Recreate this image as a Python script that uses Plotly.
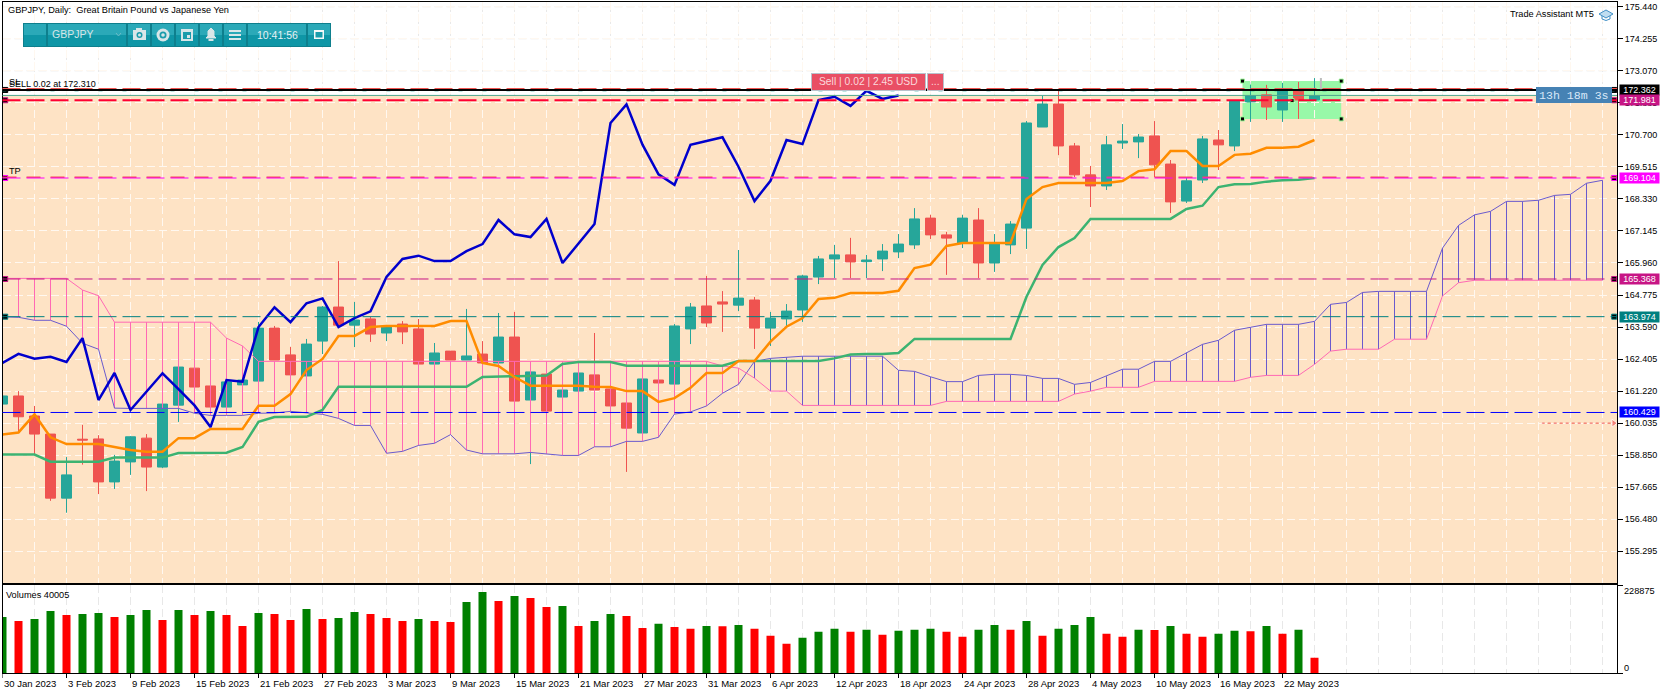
import plotly.graph_objects as go

W, H = 1670, 694

# daily candles, GBPJPY
opens = [160.74, 161.04, 160.30, 159.63, 157.26, 159.44, 159.45, 157.86, 158.60, 159.48,
         158.41, 160.70, 162.07, 161.41, 160.63, 161.45, 161.59, 163.55, 162.56, 161.78,
         163.07, 164.33, 163.66, 163.89, 163.37, 163.70, 163.52, 162.22, 162.70, 162.37,
         162.59, 162.26, 163.22, 160.89, 161.85, 161.00, 161.22, 161.82, 161.30, 160.78,
         159.67, 161.63, 161.48, 163.52, 164.37, 164.52, 164.40, 164.59, 163.55, 163.89,
         164.22, 165.44, 166.11, 166.26, 166.01, 166.11, 166.37, 166.63, 167.62, 167.00,
         166.70, 167.55, 165.96, 166.63, 167.25, 170.99, 171.84, 170.29, 169.22, 168.81,
         170.40, 170.44, 170.66, 169.62, 168.25, 169.03, 170.51, 170.29, 171.92, 172.18,
         171.62, 172.36, 171.99]
highs = [161.04, 161.22, 160.67, 159.63, 158.78, 159.97, 159.59, 158.86, 159.56, 159.63,
         160.74, 162.11, 162.07, 161.41, 161.56, 161.63, 163.78, 163.63, 162.85, 163.15,
         164.37, 166.03, 164.52, 163.96, 163.66, 163.81, 163.89, 163.00, 162.70, 164.26,
         163.07, 164.11, 164.15, 161.93, 161.85, 161.26, 161.89, 163.37, 161.30, 160.78,
         161.67, 161.63, 163.70, 164.48, 165.48, 164.92, 166.44, 164.70, 164.15, 164.44,
         165.52, 166.22, 166.63, 166.89, 166.26, 166.66, 167.03, 167.99, 167.74, 167.11,
         167.74, 167.99, 167.03, 167.51, 171.21, 172.14, 172.36, 170.40, 169.55, 170.66,
         171.10, 170.73, 171.21, 169.77, 169.14, 170.66, 170.88, 171.99, 172.55, 172.55,
         172.62, 172.66, 172.80]
lows = [160.74, 159.72, 158.89, 157.16, 156.72, 158.50, 157.41, 157.60, 158.12, 157.52,
        158.37, 160.08, 161.37, 160.63, 160.63, 161.45, 161.59, 162.37, 161.82, 161.78,
        162.59, 163.59, 162.85, 163.04, 163.07, 162.96, 162.22, 162.22, 162.37, 162.37,
        162.26, 162.26, 160.85, 158.52, 160.48, 161.00, 161.22, 161.26, 160.67, 158.23,
        159.67, 161.52, 161.48, 162.96, 163.59, 163.41, 164.18, 162.78, 162.89, 163.59,
        163.78, 165.18, 165.40, 165.40, 165.40, 165.66, 166.14, 166.48, 166.85, 165.52,
        166.51, 165.40, 165.63, 166.29, 166.48, 170.99, 169.95, 169.14, 168.03, 168.66,
        170.18, 169.84, 169.14, 167.81, 168.18, 168.92, 169.40, 170.10, 171.18, 171.25,
        171.18, 171.29, 171.99]
closes = [161.04, 160.27, 159.63, 157.26, 158.12, 159.41, 157.86, 158.63, 159.53, 158.41,
          160.74, 162.11, 161.37, 160.63, 161.56, 161.63, 163.55, 162.37, 161.82, 162.96,
          164.33, 163.66, 163.85, 163.33, 163.59, 163.41, 162.22, 162.63, 162.37, 162.52,
          162.26, 163.22, 160.85, 161.93, 160.48, 161.26, 161.89, 161.26, 160.67, 159.85,
          161.67, 161.52, 163.63, 164.33, 163.74, 164.44, 164.66, 163.55, 163.92, 164.18,
          165.48, 166.11, 166.26, 166.00, 166.07, 166.40, 166.66, 167.59, 167.00, 166.88,
          167.62, 165.96, 166.70, 167.40, 171.14, 171.84, 170.29, 169.22, 168.81, 170.33,
          170.47, 170.62, 169.59, 168.22, 169.00, 170.55, 170.33, 171.95, 172.14, 171.73,
          172.32, 171.99, 172.14]
volumes = [147000, 136600, 141800, 162700, 152250, 154900, 157500, 147000, 152250, 165300,
           139200, 165300, 152250, 162700, 152250, 123500, 157500, 154900, 139200, 167900,
           141800, 144400, 160100, 154900, 144400, 136600, 141800, 136600, 134000, 186200,
           212300, 188800, 201800, 196600, 173100, 175700, 123500, 136600, 154900, 149600,
           118300, 128800, 120900, 115700, 123500, 122500, 126150, 115700, 97400, 76600,
           92200, 107900, 115700, 107900, 113100, 100000, 110500, 113100, 115700, 107900,
           94800, 113100, 126150, 113100, 136600, 97400, 115700, 126150, 147000, 102700,
           94800, 113100, 112500, 123500, 102700, 94800, 102700, 110500, 109500, 123500,
           102700, 113100, 40005]

# ichimoku
tenkan = [159.61, 159.69, 160.36, 159.51, 159.26, 159.26, 159.26, 159.15, 159.04, 158.98,
          158.98, 159.48, 159.48, 159.82, 159.82, 159.82, 160.68, 160.68, 161.11, 162.00,
          162.41, 163.26, 163.26, 163.59, 163.63, 163.63, 163.63, 163.63, 163.81, 163.81,
          162.26, 162.15, 161.74, 161.42, 161.42, 161.42, 161.42, 161.38, 161.37, 161.22,
          161.22, 160.82, 160.96, 161.34, 161.89, 161.89, 162.33, 162.33, 163.05, 163.60,
          163.92, 164.63, 164.67, 164.85, 164.85, 164.85, 164.93, 165.77, 165.90, 166.59,
          166.70, 166.70, 166.70, 166.70, 168.33, 168.77, 168.92, 168.92, 168.92, 168.92,
          168.99, 169.36, 169.43, 170.10, 170.10, 169.55, 169.55, 169.96, 170.00, 170.22,
          170.22, 170.26, 170.51]
kijun = [158.87, 158.87, 158.87, 158.61, 158.61, 158.61, 158.61, 158.76, 158.76, 158.76,
         158.76, 158.93, 158.94, 158.94, 158.94, 159.15, 160.08, 160.26, 160.27, 160.27,
         160.52, 161.38, 161.38, 161.38, 161.38, 161.38, 161.38, 161.38, 161.38, 161.38,
         161.74, 161.75, 161.78, 161.79, 161.80, 162.22, 162.30, 162.30, 162.30, 162.16,
         162.16, 162.16, 162.16, 162.16, 162.16, 162.16, 162.33, 162.33, 162.33, 162.33,
         162.33, 162.33, 162.43, 162.57, 162.59, 162.59, 162.63, 163.15, 163.15, 163.15,
         163.15, 163.15, 163.15, 163.15, 164.71, 165.89, 166.55, 166.88, 167.59, 167.59,
         167.59, 167.59, 167.59, 167.59, 167.96, 168.08, 168.77, 168.87, 168.88, 168.97,
         169.02, 169.04, 169.10]
chikou = [162.26, 162.60, 162.42, 162.49, 162.30, 163.18, 160.89, 161.89, 160.52, 161.20,
          161.88, 161.29, 160.69, 159.89, 161.63, 161.57, 163.59, 164.32, 163.77, 164.47,
          164.65, 163.59, 163.92, 164.17, 165.44, 166.11, 166.23, 166.03, 166.03, 166.40,
          166.66, 167.55, 167.02, 166.92, 167.59, 165.96, 166.70, 167.40, 171.14, 171.83,
          170.34, 169.24, 168.85, 170.33, 170.47, 170.61, 169.52, 168.25, 169.00, 170.51,
          170.36, 171.99, 172.11, 171.77, 172.33, 172.03, 172.16]
senkou_a = [163.97, 163.95, 163.84, 163.84, 163.62, 162.99, 162.77, 160.59, 160.58, 160.58,
            160.58, 160.58, 160.40, 160.32, 160.32, 160.32, 160.40, 160.41, 160.47, 160.41,
            160.36, 160.21, 159.95, 159.95, 158.92, 158.99, 159.21, 159.29, 159.61, 159.04,
            158.90, 158.90, 158.90, 158.95, 158.90, 158.84, 158.84, 159.16, 159.16, 159.36,
            159.36, 159.51, 160.37, 160.45, 160.67, 161.14, 161.47, 162.32, 162.43, 162.47,
            162.51, 162.51, 162.51, 162.51, 162.51, 162.51, 161.99, 161.95, 161.75, 161.57,
            161.57, 161.80, 161.84, 161.84, 161.80, 161.69, 161.69, 161.47, 161.54, 161.77,
            162.03, 162.03, 162.32, 162.32, 162.65, 162.95, 163.10, 163.47, 163.58, 163.69,
            163.69, 163.69, 163.80, 164.43, 164.50, 164.87, 164.91, 164.91, 164.91, 164.91,
            166.51, 167.35, 167.74, 167.87, 168.24, 168.24, 168.28, 168.46, 168.50, 168.91, 169.02]
senkou_b = [165.39, 165.39, 165.39, 165.39, 165.39, 164.96, 164.75, 163.77, 163.77, 163.77,
            163.77, 163.77, 163.77, 163.77, 163.18, 162.89, 162.32, 162.32, 162.32, 162.32,
            162.32, 162.32, 162.32, 162.32, 162.32, 162.32, 162.32, 162.32, 162.32, 162.32,
            162.32, 162.32, 162.32, 162.32, 162.32, 162.32, 162.32, 162.32, 162.32, 162.32,
            162.32, 162.32, 162.32, 162.32, 162.32, 162.15, 162.07, 161.70, 161.22, 161.22,
            160.69, 160.69, 160.69, 160.69, 160.69, 160.69, 160.69, 160.69, 160.69, 160.84,
            160.84, 160.84, 160.84, 160.84, 160.84, 160.84, 160.84, 161.11, 161.22, 161.36,
            161.36, 161.36, 161.58, 161.58, 161.58, 161.58, 161.58, 161.58, 161.73, 161.80,
            161.80, 161.80, 162.21, 162.70, 162.77, 162.77, 162.77, 163.14, 163.14, 163.14,
            164.74, 165.23, 165.32, 165.32, 165.32, 165.32, 165.32, 165.32, 165.32, 165.32, 165.32]

# axes
price_ticks = [175.440, 174.255, 173.070, 171.885, 170.700, 169.515, 168.330, 167.145, 165.960,
               164.775, 163.590, 162.405, 161.220, 160.035, 158.850, 157.665, 156.480, 155.295]
date_labels = ["30 Jan 2023", "3 Feb 2023", "9 Feb 2023", "15 Feb 2023", "21 Feb 2023", "27 Feb 2023",
               "3 Mar 2023", "9 Mar 2023", "15 Mar 2023", "21 Mar 2023", "27 Mar 2023", "31 Mar 2023",
               "6 Apr 2023", "12 Apr 2023", "18 Apr 2023", "24 Apr 2023", "28 Apr 2023", "4 May 2023",
               "10 May 2023", "16 May 2023", "22 May 2023"]
vol_max = 228875

# price levels on the right, with their tag colours
level_prices = [172.362, 171.981, 169.104, 165.368, 163.974, 160.429]
level_colors = ["#000000", "#C71585", "#FF00FF", "#C71585", "#008080", "#0000FF"]

# chart objects
peach_top = 172.14
box_x = [77.5, 83.67]
box_y = [171.29, 172.69]
alert_price = 160.035
alert_x = [96.2, 100.7]

FONT = "Liberation Sans"
ZONE = "#FEE3C5"
GRID_LIGHT = "#FFF8F0"
GRID_GREY = "#E8E8E8"
DASH = "8px,4px"
LEVEL_DASH = "18px,6px"

x_range = [0, 100.906]
bars = list(range(len(closes)))
cloud_x = list(range(len(senkou_a)))
grid_x = list(range(0, 101, 2))


def px(x):
    return x / W


def py(y):
    return 1 - y / H


def hatch(pick):
    # vertical strokes of the cloud, split by which span is on top
    xs, ys = [], []
    for i in cloud_x:
        if pick(senkou_a[i], senkou_b[i]):
            xs += [i, i, None]
            ys += [senkou_a[i], senkou_b[i], None]
    return xs, ys


fig = go.Figure()

pink_x, pink_y = hatch(lambda a, b: b >= a)
blue_x, blue_y = hatch(lambda a, b: a > b)
fig.add_trace(go.Scatter(x=pink_x, y=pink_y, mode="lines", line=dict(color="#FF69B4", width=1)))
fig.add_trace(go.Scatter(x=blue_x, y=blue_y, mode="lines", line=dict(color="#6A5ACD", width=1)))
fig.add_trace(go.Scatter(x=cloud_x, y=senkou_a, mode="lines", line=dict(color="#6A5ACD", width=1)))
fig.add_trace(go.Scatter(x=cloud_x, y=senkou_b, mode="lines", line=dict(color="#FF69B4", width=1)))

fig.add_trace(go.Candlestick(
    x=bars, open=opens, high=highs, low=lows, close=closes, whiskerwidth=0,
    increasing=dict(line=dict(color="#26A69A", width=1), fillcolor="#26A69A"),
    decreasing=dict(line=dict(color="#EF5350", width=1), fillcolor="#EF5350"),
))

fig.add_trace(go.Scatter(x=bars, y=kijun, mode="lines", line=dict(color="#3CB371", width=2.5)))
fig.add_trace(go.Scatter(x=bars, y=tenkan, mode="lines", line=dict(color="#FF8C00", width=2.5)))
fig.add_trace(go.Scatter(x=bars[:len(chikou)], y=chikou, mode="lines", line=dict(color="#0000CD", width=2.5)))

# dotted alert line with arrow
fig.add_trace(go.Scatter(x=alert_x, y=[alert_price, alert_price], mode="lines+markers",
                         line=dict(color="#EF5350", width=1, dash="3px,3px"),
                         marker=dict(symbol=["line-ew", "triangle-right"], size=[1, 7], color="#EF5350")))

# small drag handles on the lines and the green box
for side in [0.17, 100.73]:
    fig.add_trace(go.Scatter(x=[side] * 5, y=level_prices[:5], mode="markers",
                             marker=dict(symbol="square", size=5, color="#000000",
                                         line=dict(color=level_colors[:5], width=1))))
fig.add_trace(go.Scatter(x=[box_x[0], box_x[1], box_x[0], box_x[1], 80.6],
                         y=[box_y[1], box_y[1], box_y[0], box_y[0], 171.97], mode="markers",
                         marker=dict(symbol="square", size=4, color="#000000",
                                     line=dict(color="#98FB98", width=1))))

# volumes go green when they rise on the day before
vol_colors = ["#008000"] + ["#008000" if v > p else "#FF0000" for p, v in zip(volumes, volumes[1:])]
fig.add_trace(go.Bar(x=bars, y=volumes, width=0.5, marker=dict(color=vol_colors, line_width=0),
                     xaxis="x2", yaxis="y2"))

shapes = [
    dict(type="rect", xref="x domain", yref="y", x0=0, x1=1, y0=150, y1=peach_top,
         fillcolor=ZONE, line_width=0, layer="below"),
    dict(type="rect", xref="x", yref="y", x0=box_x[0], x1=box_x[1], y0=box_y[0], y1=box_y[1],
         fillcolor="#98F8A8", line_width=0, layer="below"),
]

# grid in the white strip above the zone
for g in grid_x:
    shapes.append(dict(type="line", xref="x", yref="y", x0=g, x1=g, y0=peach_top, y1=176,
                       line=dict(color=GRID_GREY, width=1, dash=DASH), layer="below"))
for t in price_ticks[:3]:
    shapes.append(dict(type="line", xref="x domain", yref="y", x0=0, x1=1, y0=t, y1=t,
                       line=dict(color=GRID_GREY, width=1, dash=DASH), layer="below"))

# the thin line just above the zone and the position lines
shapes.append(dict(type="line", xref="x domain", yref="y", x0=0, x1=1, y0=172.16, y1=172.16,
                   line=dict(color="#4FA58C", width=1)))
shapes.append(dict(type="line", xref="x domain", yref="y", x0=0, x1=1, y0=172.33, y1=172.33,
                   line=dict(color="#26A69A", width=1, dash="4px,20px")))
shapes.append(dict(type="line", xref="x domain", yref="y", x0=0, x1=1, y0=172.40, y1=172.40,
                   line=dict(color="#EF5350", width=2, dash=LEVEL_DASH)))
shapes.append(dict(type="line", xref="x domain", yref="y", x0=0, x1=1, y0=level_prices[0], y1=level_prices[0],
                   line=dict(color="#000000", width=2)))
shapes.append(dict(type="line", xref="x domain", yref="y", x0=0, x1=1, y0=level_prices[1], y1=level_prices[1],
                   line=dict(color="#FF0033", width=2, dash=LEVEL_DASH)))
shapes.append(dict(type="line", xref="x domain", yref="y", x0=0, x1=1, y0=169.135, y1=169.135,
                   line=dict(color="#EF5350", width=1.5, dash="14px,10px")))
shapes.append(dict(type="line", xref="x domain", yref="y", x0=0, x1=1, y0=level_prices[2], y1=level_prices[2],
                   line=dict(color="#FF00FF", width=1, dash=LEVEL_DASH)))
for p, c in zip(level_prices[3:], level_colors[3:]):
    shapes.append(dict(type="line", xref="x domain", yref="y", x0=0, x1=1, y0=p, y1=p,
                       line=dict(color=c, width=1, dash=LEVEL_DASH)))

# grey stroke by the last bar
shapes.append(dict(type="line", xref="x", yref="y", x0=82.4, x1=82.4, y0=172.39, y1=172.80,
                   line=dict(color="#BDBDBD", width=2)))

# date ticks under the volume panel
for i in range(len(date_labels)):
    shapes.append(dict(type="line", xref="x2", yref="paper", x0=i * 4, x1=i * 4,
                       y0=py(673), y1=py(678), line=dict(color="#000000", width=1)))


def rect(x0, y0, x1, y1, color):
    shapes.append(dict(type="rect", xref="paper", yref="paper", x0=px(x0), x1=px(x1),
                       y0=py(y0), y1=py(y1), fillcolor=color, line_width=0))


def path(points, stroke, width=1, fill=None, close=False):
    d = " ".join(("M" if n == 0 else "L") + f"{px(a):.5f},{py(b):.5f}" for n, (a, b) in enumerate(points))
    shapes.append(dict(type="path", xref="paper", yref="paper", path=d + (" Z" if close else ""),
                       line=dict(color=stroke, width=width), fillcolor=fill or "rgba(0,0,0,0)"))


def circle(cx, cy, r, color):
    shapes.append(dict(type="circle", xref="paper", yref="paper", x0=px(cx - r), x1=px(cx + r),
                       y0=py(cy - r), y1=py(cy + r), fillcolor=color, line_width=0))


# toolbar at the top left
ICON = "#D9E6E8"
rect(23, 23, 331, 47, "#0E7F8D")
for x0, x1 in [(24, 46), (48, 126), (128, 150), (152, 174), (176, 198), (200, 222), (224, 246), (248, 306), (308, 330)]:
    rect(x0, 24, x1, 35, "#2BA9B8")
    rect(x0, 35, x1, 46, "#0F96A6")
path([(116, 33), (118.5, 36), (121, 33)], "#6CBDC8")
# camera
rect(133, 30, 146, 40, ICON)
rect(136, 28, 142, 30, ICON)
circle(139.5, 35, 3, "#1A9CAB")
circle(139.5, 35, 1.5, ICON)
# eye
circle(163, 35, 6.5, ICON)
circle(163, 35, 3.5, "#1A9CAB")
circle(163, 35, 1.8, ICON)
# calendar
rect(181, 29, 193, 41, ICON)
rect(183, 32, 191, 39, "#1A9CAB")
rect(187, 35, 190, 38, ICON)
# bell
path([(206, 38), (208, 36), (208, 31), (211, 28), (214, 31), (214, 36), (216, 38)], ICON, 1, ICON, True)
rect(208.5, 39, 213.5, 41, ICON)
# menu
rect(229, 30, 241, 32, ICON)
rect(229, 34, 241, 36, ICON)
rect(229, 38, 241, 40, ICON)
# restore button
rect(314, 30, 324, 39, "#F4F8F8")
rect(315.5, 32, 322.5, 37.5, "#1A9CAB")

# sell buttons
rect(811, 73, 926, 91, "#B9C2CC")
rect(812, 74, 925, 90, "#E94F64")
rect(927, 73, 944, 91, "#B9C2CC")
rect(928, 74, 943, 90, "#E94F64")

# countdown box
rect(1536, 87, 1612, 103, "#4682B4")

# graduation cap next to the indicator name
path([(1599, 14), (1606, 10), (1613, 14), (1606, 18)], "#3F8FC6", 1, "#BFDDF0", True)
path([(1602, 16), (1602, 19), (1606, 20.5), (1610, 19), (1610, 16)], "#3F8FC6")


def label(text, x, y, color="#000000", size=9.2, anchor="left", family=FONT):
    return dict(text=text, xref="paper", yref="paper", x=px(x), y=py(y), xanchor=anchor, yanchor="middle",
                showarrow=False, borderpad=0, font=dict(family=family, size=size, color=color))


annotations = [
    label("GBPJPY, Daily:  Great Britain Pound vs Japanese Yen", 7, 9.7),
    label("Trade Assistant MT5", 1509, 13.7),
    label("SL", 8, 81.5),
    label("SELL 0.02 at 172.310", 8, 84.5, size=9),
    label("TP", 8, 170.7),
    label("Volumes 40005", 5, 594.7),
    label("228875", 1623, 591),
    label("0", 1623, 667.5),
    label("GBPJPY", 51, 34, "#D6E6E8", 10.5),
    label("10:41:56", 277, 34.5, "#E8F2F4", 10.5, "center"),
    label("Sell | 0.02 | 2.45 USD", 868.5, 82, "#FBD9DC", 10.3, "center"),
    label("...", 935.5, 82, "#FBD9DC", 10.3, "center"),
    label("13h 18m 3s", 1574, 95.5, "#D8E8F8", 11.6, "center", "Liberation Mono"),
]
for i, text in enumerate(date_labels):
    annotations.append(dict(text=text, xref="x2", yref="paper", x=i * 4, y=py(683), xanchor="left",
                            yanchor="middle", showarrow=False, borderpad=0,
                            font=dict(family=FONT, size=9.5, color="#000000")))
for p, c in zip(level_prices, level_colors):
    annotations.append(dict(text=f"{p:.3f}", xref="paper", yref="y", x=px(1639.5), y=p, xanchor="center",
                            yanchor="middle", showarrow=False, width=39, height=10, borderpad=0, bgcolor=c,
                            font=dict(family=FONT, size=9, color="#FFFFFF")))

fig.update_layout(
    width=W,
    height=H,
    margin=dict(l=0, r=0, t=0, b=0),
    autosize=False,
    showlegend=False,
    hovermode=False,
    paper_bgcolor="#FFFFFF",
    plot_bgcolor="#FFFFFF",
    boxgap=0.2,
    boxgroupgap=0.22,
    font=dict(family=FONT, size=9, color="#000000"),
    shapes=shapes,
    annotations=annotations,
    xaxis=dict(
        domain=[px(2.5), px(1617)], range=x_range, rangeslider_visible=False,
        tickmode="array", tickvals=grid_x, showticklabels=False, ticks="",
        showgrid=True, gridcolor=GRID_LIGHT, griddash=DASH, gridwidth=1, zeroline=False,
        showline=True, mirror=True, linecolor="#000000", linewidth=1, anchor="y",
    ),
    yaxis=dict(
        domain=[py(583), py(2)], range=[154.12, 175.616], side="right",
        tickmode="array", tickvals=price_ticks, ticktext=[f"{t:.3f}" for t in price_ticks],
        ticks="outside", ticklen=5, tickcolor="#000000", tickwidth=1,
        showgrid=True, gridcolor=GRID_LIGHT, griddash=DASH, gridwidth=1, zeroline=False,
        showline=True, mirror=True, linecolor="#000000", linewidth=1, anchor="x",
    ),
    xaxis2=dict(
        domain=[px(2.5), px(1617)], range=x_range,
        tickmode="array", tickvals=grid_x, showticklabels=False, ticks="",
        showgrid=True, gridcolor=GRID_GREY, griddash=DASH, gridwidth=1, zeroline=False,
        showline=True, mirror=True, linecolor="#000000", linewidth=1, anchor="y2",
    ),
    yaxis2=dict(
        domain=[py(673), py(585)], range=[0, vol_max * 88 / 87.3], side="right",
        tickmode="array", tickvals=[0, vol_max], showticklabels=False,
        ticks="outside", ticklen=5, tickcolor="#000000", tickwidth=1,
        showgrid=False, zeroline=False,
        showline=True, mirror=True, linecolor="#000000", linewidth=1, anchor="x2",
    ),
)

fig.write_html("out.html", config={"displayModeBar": False},
               post_script="document.body.style.margin='0';document.body.style.overflow='hidden';")
